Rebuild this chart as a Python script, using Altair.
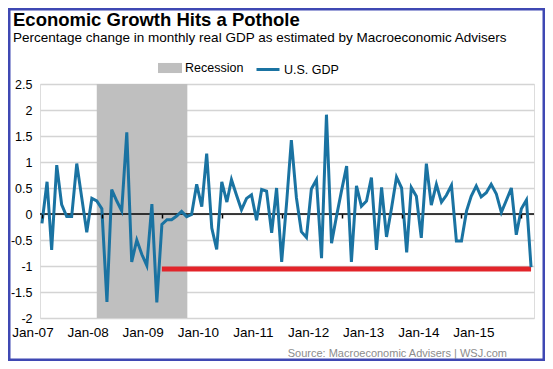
import altair as alt
import pandas as pd

# ---------------- data ----------------
title_text = "Economic Growth Hits a Pothole"
subtitle_text = "Percentage change in monthly real GDP as estimated by Macroeconomic Advisers"
source_text = "Source: Macroeconomic Advisers  |  WSJ.com"

series_label = "U.S. GDP"
gdp_start = "2007-01-01"
gdp_values = [
    -0.18, 0.62, -0.69, 0.94, 0.18, -0.05, -0.05, 0.97, 0.30, -0.35, 0.30, 0.25,
    0.10, -1.69, 0.47, 0.25, 0.06, 1.57, -0.92, -0.50, -0.78, -0.99, 0.19, -1.70,
    -0.20, -0.11, -0.11, -0.04, 0.05, -0.05, -0.01, 0.57, 0.14, 1.16, -0.27, -0.68,
    0.62, 0.23, 0.66, 0.36, 0.08, 0.30, 0.37, -0.12, 0.47, 0.44, -0.36, 0.50,
    -0.92, 0.25, 1.42, 0.31, -0.34, -0.45, 0.48, 0.66, -0.85, 1.91, -0.56, -0.05,
    0.45, 0.92, -0.92, 0.54, 0.15, 0.25, 0.70, -0.69, 0.51, -0.44, 0.12, 0.71,
    0.50, -0.74, 0.51, 0.34, -0.46, 0.97, 0.17, 0.57, 0.23, 0.36, 0.55, -0.52,
    -0.52, 0.06, 0.34, 0.54, 0.33, 0.41, 0.57, 0.39, 0.03, 0.26, 0.50, -0.40,
    0.10, 0.27, -1.02,
]

recession_label = "Recession"
recession_start = "2007-12-01"
recession_end = "2009-06-05"

ref_start = "2009-01-01"
ref_end = "2015-03-01"
ref_level = -1.06

x_label_years = [2007, 2008, 2009, 2010, 2011, 2012, 2013, 2014, 2015]
x_labels = ["Jan-07", "Jan-08", "Jan-09", "Jan-10", "Jan-11",
            "Jan-12", "Jan-13", "Jan-14", "Jan-15"]
y_ticks = [-2, -1.5, -1, -0.5, 0, 0.5, 1, 1.5, 2, 2.5]
y_min, y_max = -2, 2.5

# ---------------- tables ----------------
dates = pd.date_range(gdp_start, periods=len(gdp_values), freq="MS").strftime("%Y-%m-%d")
gdp_df = pd.DataFrame({"date": dates, "value": gdp_values, "series": series_label})
rec_df = pd.DataFrame({"start": [recession_start], "end": [recession_end],
                       "lo": [y_min], "hi": [y_max], "name": [recession_label]})
ref_df = pd.DataFrame({"start": [ref_start], "end": [ref_end], "level": [ref_level]})
zero_df = pd.DataFrame({"y": [0]})
lab_df = pd.DataFrame({"yr": x_label_years, "lab": x_labels})

# ---------------- styling ----------------
FONT = "Liberation Sans"
W, H = 494, 234
BLUE = "#1a73a2"
GREY = "#bfbfbf"
RED = "#e2242a"

xscale = alt.Scale(domain=[alt.DateTime(year=2006, month=12, date=20, utc=True),
                           alt.DateTime(year=2015, month=3, date=19, utc=True)],
                   nice=False)
yscale = alt.Scale(domain=[y_min, y_max], nice=False, zero=False)

x_axis = alt.Axis(values=[alt.DateTime(year=y, month=1, date=1, utc=True) for y in x_label_years],
                  offset=-104, domain=False, ticks=True, tickColor="black",
                  tickSize=4, tickWidth=1.5, labels=False, grid=False,
                  title=None, zindex=1)
y_axis = alt.Axis(values=y_ticks, labelExpr="datum.value + ''", grid=True,
                  gridColor="#d4d4d4", gridWidth=1.5, domain=False, ticks=False,
                  tickSize=0, labelPadding=8, labelFontSize=12.5, labelColor="black",
                  labelFont=FONT, title=None, labelOverlap=False, labelBound=False,
                  labelFlush=False)


def X(field):
    return alt.X(field, scale=xscale, axis=x_axis)


def Y(field):
    return alt.Y(field, scale=yscale, axis=y_axis)


band = alt.Chart(rec_df).mark_rect().encode(
    x=X("start:T"),
    x2="end:T",
    y=Y("lo:Q"),
    y2="hi:Q",
    fill=alt.Fill("name:N",
                  scale=alt.Scale(domain=[recession_label], range=[GREY]),
                  legend=alt.Legend(orient="none", legendX=118, legendY=-28, title=None,
                                    symbolType="M-1,-0.42H1V0.42H-1Z", symbolSize=576,
                                    symbolStrokeWidth=0, labelFontSize=12.5,
                                    labelFont=FONT, labelColor="black",
                                    labelOffset=3, padding=0)),
)

zero = alt.Chart(zero_df).mark_rule(color="black", strokeWidth=1.5).encode(y=Y("y:Q"))

red = alt.Chart(ref_df).mark_rule(color=RED, strokeWidth=5).encode(
    x=X("start:T"), x2="end:T", y=Y("level:Q"))

line = alt.Chart(gdp_df).mark_line(strokeWidth=3).encode(
    x=X("date:T"),
    y=Y("value:Q"),
    stroke=alt.Stroke("series:N",
                      scale=alt.Scale(domain=[series_label], range=[BLUE]),
                      legend=alt.Legend(orient="none", legendX=215, legendY=-27.5, title=None,
                                        symbolType="stroke", symbolSize=529,
                                        symbolStrokeWidth=3, labelFontSize=12.5,
                                        labelFont=FONT, labelColor="black",
                                        labelOffset=3, padding=0)),
)

inner = alt.layer(band, zero, red, line)

xlabels = alt.Chart(lab_df).mark_text(fontSize=13.5, font=FONT, color="black",
                                      align="center", baseline="alphabetic").encode(
    x=alt.X("yr:Q", scale=alt.Scale(domain=[2007.127, 2016.089], nice=False, zero=False),
            axis=None),
    y=alt.value(253),
    text="lab:N",
)

one = pd.DataFrame({"t": [0]})
title = alt.Chart(pd.DataFrame({"t": [title_text]})).mark_text(
    fontSize=18.5, fontWeight="bold", font=FONT, color="black",
    align="left", baseline="alphabetic").encode(
    x=alt.value(-27), y=alt.value(-58), text="t:N")
subtitle = alt.Chart(pd.DataFrame({"t": [subtitle_text]})).mark_text(
    fontSize=13.5, font=FONT, color="black",
    align="left", baseline="alphabetic").encode(
    x=alt.value(-27), y=alt.value(-42), text="t:N")
source = alt.Chart(pd.DataFrame({"t": [source_text]})).mark_text(
    fontSize=11, font=FONT, color="#8c8c8c",
    align="right", baseline="alphabetic").encode(
    x=alt.value(467), y=alt.value(273), text="t:N")
frame = alt.Chart(one).mark_rect(fill="white", fillOpacity=0, stroke="#3f48b3",
                                 strokeWidth=2.5).encode(
    x=alt.value(-30.75), x2=alt.value(503.75), y=alt.value(-74.75), y2=alt.value(275.75))

chart = alt.layer(frame, title, subtitle, source, inner, xlabels).resolve_scale(
    x="independent"
).properties(
    width=W, height=H,
    autosize=alt.AutoSizeParams(type="none"),
    padding={"left": 32, "top": 76, "right": 11, "bottom": 43},
).configure_view(strokeWidth=0).configure(font=FONT)

chart.save("out.html", embed_options={"renderer": "svg", "actions": False})
